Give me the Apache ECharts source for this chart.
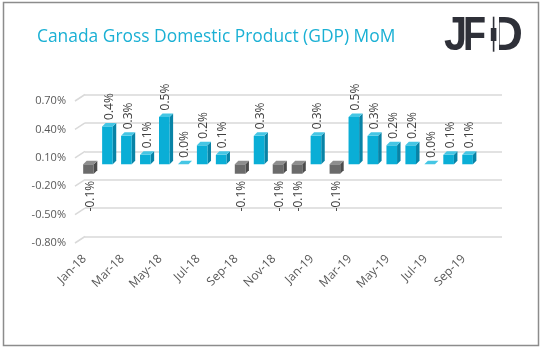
<!DOCTYPE html>
<html>
<head>
<meta charset="utf-8">
<script src="https://cdn.jsdelivr.net/npm/echarts@6/dist/echarts.min.js"></script>
<style>html,body{margin:0;padding:0;background:#fff;}#c{width:542px;height:350px;}</style>
</head>
<body>
<div id="c"></div>
<script>
const categories = ['Jan-18','Feb-18','Mar-18','Apr-18','May-18','Jun-18','Jul-18','Aug-18','Sep-18','Oct-18','Nov-18','Dec-18',
  'Jan-19','Feb-19','Mar-19','Apr-19','May-19','Jun-19','Jul-19','Aug-19','Sep-19','Oct-19'];
const gdpMoM = [-0.1,0.4,0.3,0.1,0.5,0.0,0.2,0.1,-0.1,0.3,-0.1,-0.1,0.3,-0.1,0.5,0.3,0.2,0.2,0.0,0.1,0.1,null];
const yTicks = [-0.8,-0.5,-0.2,0.1,0.4,0.7];
const titleText = 'Canada Gross Domestic Product (GDP) MoM';

const chart = echarts.init(document.getElementById('c'), null, {renderer:'canvas'});

const DX = 4, DY = -3;      // bar placement (mid depth)
const BD = 3.5;             // bar depth
const BLUE = {front:'#0aaed6', side:'#0883a6', top:'#45c6e4'};
const GRAY = {front:'#6b6b6b', side:'#4c4c4c', top:'#8e8e8e'};
const LOGO = '#2e3038';

function renderBar(params, api) {
  const idx = api.value(0), v = api.value(1);
  if (v == null || isNaN(v)) return;
  const p = api.coord([idx, v]);
  const b = api.coord([idx, 0]);
  const band = api.size([1, 0])[0];
  const w = band * 0.56;
  const x0 = p[0] + DX - w / 2, x1 = x0 + w;
  const yv = p[1] + DY, yb = b[1] + DY;
  const top = Math.min(yv, yb), bot = Math.max(yv, yb);
  const c = v < 0 ? GRAY : BLUE;
  const children = [];
  if (bot - top > 0.1) {
    children.push({type:'polygon', shape:{points:[[x1,top],[x1+BD,top-BD],[x1+BD,bot-BD],[x1,bot]]}, style:{fill:c.side}});
    children.push({type:'rect', shape:{x:x0, y:top, width:w, height:bot-top}, style:{fill:c.front}});
  }
  children.push({type:'polygon', shape:{points:[[x0,top],[x0+BD,top-BD],[x1+BD,top-BD],[x1,top]]}, style:{fill:c.top}});
  const label = v.toFixed(1) + '%';
  const lx = (x0 + x1 + BD) / 2;
  if (v >= 0) {
    children.push({type:'text', x:lx, y:top - BD - 3, rotation:Math.PI/2,
      style:{text:label, align:'left', verticalAlign:'middle', fill:'#404040', font:'12px "Open Sans"'}});
  } else {
    children.push({type:'text', x:lx, y:bot + 7, rotation:Math.PI/2,
      style:{text:label, align:'right', verticalAlign:'middle', fill:'#404040', font:'12px "Open Sans"'}});
  }
  return {type:'group', children};
}

function renderStub(params, api) {
  const v = api.value(0);
  const y = api.coord([0, v])[1];
  const x = params.coordSys.x;
  return {type:'line', shape:{x1:x, y1:y, x2:x+10, y2:y-6.5}, style:{stroke:'#d9d9d9', lineWidth:1.5}};
}

const option = {
  animation: false,
  backgroundColor: '#ffffff',
  grid: [
    {left:75, top:101, width:417, height:142},
    {left:85, top:94.5, width:417, height:142}
  ],
  xAxis: [
    {type:'category', gridIndex:0, data:categories, boundaryGap:true,
     axisLine:{show:false}, axisTick:{show:false},
     axisLabel:{rotate:45, interval:1, color:'#595959', fontSize:12, fontFamily:'Open Sans', margin:14}},
    {type:'category', gridIndex:1, data:categories, show:false}
  ],
  yAxis: [
    {type:'value', gridIndex:0, min:-0.8, max:0.7, interval:0.3,
     axisLine:{show:false}, axisTick:{show:false}, splitLine:{show:false},
     axisLabel:{color:'#595959', fontSize:11, fontFamily:'Open Sans', margin:9,
       formatter:(v)=>v.toFixed(2)+'%'}},
    {type:'value', gridIndex:1, min:-0.8, max:0.7, interval:0.3,
     axisLine:{show:false}, axisTick:{show:false}, axisLabel:{show:false},
     splitLine:{show:true, lineStyle:{color:'#d9d9d9', width:1.5}}}
  ],
  series: [
    {type:'custom', xAxisIndex:0, yAxisIndex:0, data:yTicks.map(t=>[t]), renderItem:renderStub, silent:true, z:1},
    {type:'custom', xAxisIndex:0, yAxisIndex:0, data:gdpMoM.map((v,i)=>[i,v]), renderItem:renderBar, silent:true, z:5}
  ],
  graphic: [
    {type:'rect', shape:{x:3.5, y:2.5, width:535, height:343}, style:{fill:'none', stroke:'#8c8c8c', lineWidth:1.5}, z:100},
    {type:'text', x:37, y:37, style:{text:titleText, fill:'#1ab0d4', font:'17.4px "Open Sans"', verticalAlign:'middle'}},
    {type:'text', x:444, y:36.7, scaleX:0.85, style:{text:'J', fill:LOGO, font:'bold 49px "Liberation Sans"', verticalAlign:'middle'}, z:10},
    {type:'text', x:463, y:36.7, scaleX:0.77, style:{text:'F', fill:LOGO, font:'bold 49px "Liberation Sans"', verticalAlign:'middle'}, z:10},
    {type:'text', x:490, y:36.7, scaleX:0.93, style:{text:'D', fill:LOGO, font:'bold 49px "Liberation Sans"', verticalAlign:'middle'}, z:10},
    {type:'rect', shape:{x:491, y:12, width:8, height:44}, style:{fill:'#ffffff'}, z:11},
    {type:'rect', shape:{x:492.8, y:16.7, width:1.6, height:35}, style:{fill:LOGO}, z:12},
    {type:'rect', shape:{x:490.8, y:28, width:5.6, height:13}, style:{fill:LOGO}, z:12}
  ]
};
chart.setOption(option);
</script>
</body>
</html>
